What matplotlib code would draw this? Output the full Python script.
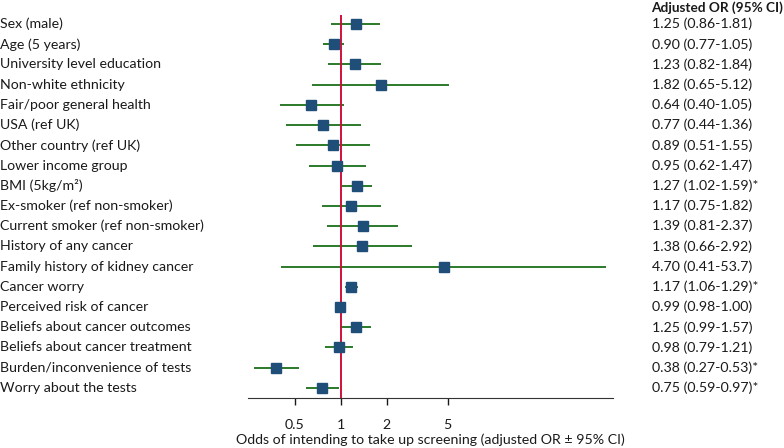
import numpy as np
import matplotlib.pyplot as plt

labels = ['Sex (male)', 'Age (5 years)', 'University level education',
          'Non-white ethnicity', 'Fair/poor general health', 'USA (ref UK)',
          'Other country (ref UK)', 'Lower income group', 'BMI (5kg/m\u00b2)',
          'Ex-smoker (ref non-smoker)', 'Current smoker (ref non-smoker)',
          'History of any cancer', 'Family history of kidney cancer',
          'Cancer worry', 'Perceived risk of cancer',
          'Beliefs about cancer outcomes', 'Beliefs about cancer treatment',
          'Burden/inconvenience of tests', 'Worry about the tests']
odds = [1.25, 0.90, 1.23, 1.82, 0.64, 0.77, 0.89, 0.95, 1.27, 1.17, 1.39,
        1.38, 4.70, 1.17, 0.99, 1.25, 0.98, 0.38, 0.75]
lower = [0.86, 0.77, 0.82, 0.65, 0.40, 0.44, 0.51, 0.62, 1.02, 0.75, 0.81,
         0.66, 0.41, 1.06, 0.98, 0.99, 0.79, 0.27, 0.59]
upper = [1.81, 1.05, 1.84, 5.12, 1.05, 1.36, 1.55, 1.47, 1.59, 1.82, 2.37,
         2.92, 53.7, 1.29, 1.00, 1.57, 1.21, 0.53, 0.97]
ci_text = ['1.25 (0.86-1.81)', '0.90 (0.77-1.05)', '1.23 (0.82-1.84)',
           '1.82 (0.65-5.12)', '0.64 (0.40-1.05)', '0.77 (0.44-1.36)',
           '0.89 (0.51-1.55)', '0.95 (0.62-1.47)', '1.27 (1.02-1.59)*',
           '1.17 (0.75-1.82)', '1.39 (0.81-2.37)', '1.38 (0.66-2.92)',
           '4.70 (0.41-53.7)', '1.17 (1.06-1.29)*', '0.99 (0.98-1.00)',
           '1.25 (0.99-1.57)', '0.98 (0.79-1.21)', '0.38 (0.27-0.53)*',
           '0.75 (0.59-0.97)*']
xticks = [0.5, 1, 2, 5]

plt.rcParams['font.family'] = ['Lato', 'DejaVu Sans']
txt = '#1a1a1a'
fs = 10.2

fig = plt.figure(figsize=(7.84, 4.48), dpi=100)
ax = fig.add_axes([0.316, 0.1116, 0.466, 0.855])

y = np.arange(len(labels))
ax.hlines(y, lower, upper, color='#2b7a2b', lw=1.4, zorder=2)
ax.axvline(1, color='#d0103a', lw=1.4, zorder=3)
ax.plot(odds, y, 's', color='#1f4e79', ms=6.5, zorder=4)

ax.set_xscale('log')
ax.set_xlim(0.247, 60)
ax.set_ylim(18.5, -0.45)
ax.set_xticks(xticks)
ax.set_xticklabels([str(t) for t in xticks])
ax.minorticks_off()
ax.tick_params(axis='x', direction='out', length=5, width=1, pad=10,
               labelsize=fs, colors=txt)
ax.set_yticks([])
for s in ['left', 'top', 'right']:
    ax.spines[s].set_visible(False)
ax.spines['bottom'].set_color('#333333')
ax.set_xlabel('Odds of intending to take up screening (adjusted OR \u00b1 95% CI)',
              fontsize=fs, color=txt, labelpad=2)

for i in range(len(labels)):
    yy = ax.transData.transform((1, y[i]))[1]
    yf = fig.transFigure.inverted().transform((0, yy))[1]
    fig.text(0.0, yf, labels[i], ha='left', va='center', fontsize=fs, color=txt)
    fig.text(0.831, yf, ci_text[i], ha='left', va='center', fontsize=fs, color=txt)

fig.text(0.831, 0.982, 'Adjusted OR (95% CI)', ha='left', va='center',
         fontsize=fs - 0.4, fontweight='bold', color=txt)

plt.savefig('out.png', dpi=100)
